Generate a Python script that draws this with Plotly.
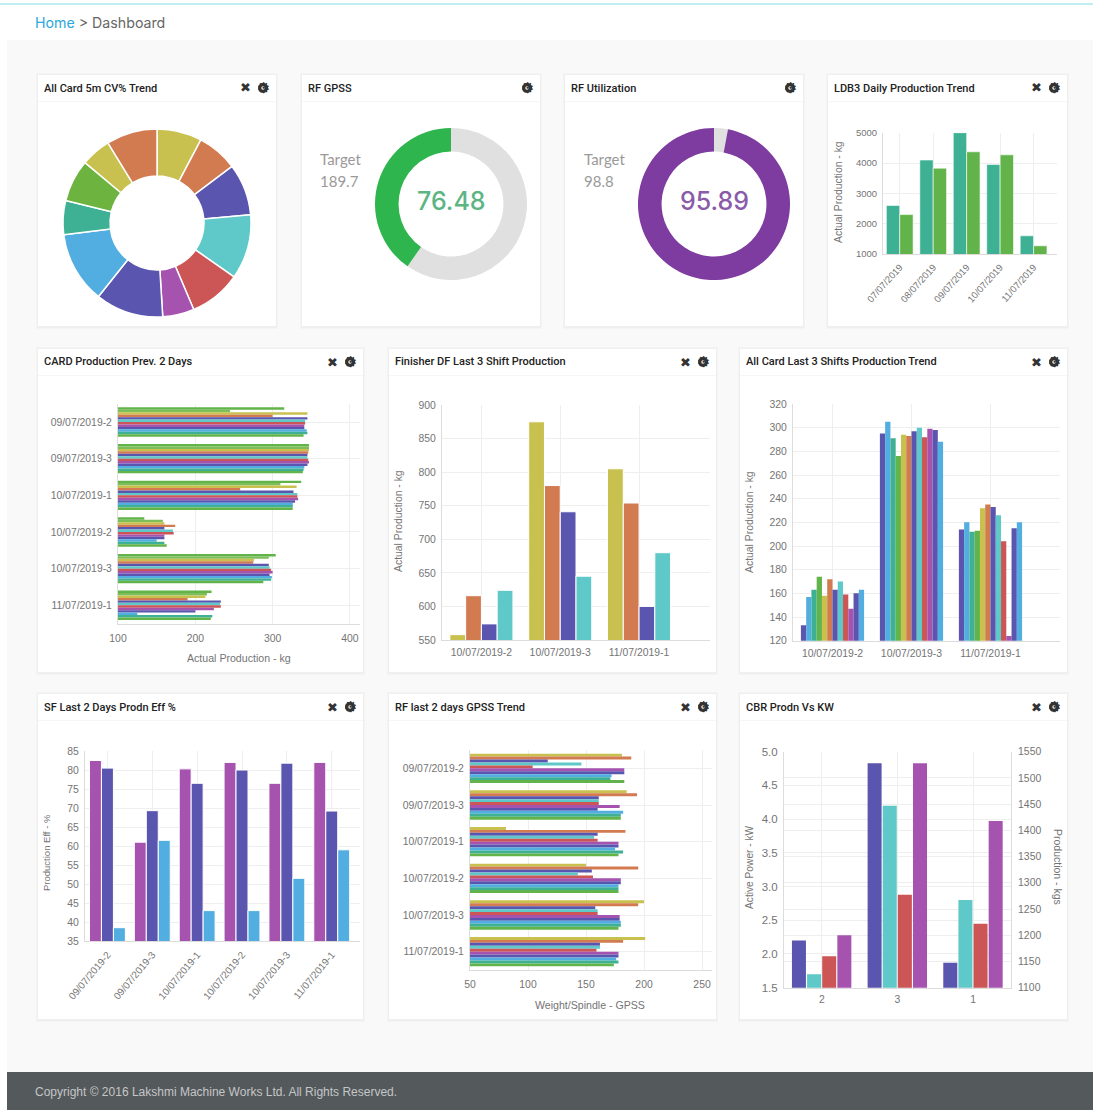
import plotly.graph_objects as go

W, H = 1093, 1110

# ---------- data ----------
cv_values = [27.8, 25.2, 32, 40, 32, 19.5, 42, 44.3, 21, 26.2, 18.5, 31.5]
gpss_actual, gpss_target = 76.48, 189.7
util_actual, util_target = 95.89, 98.8

ldb3_dates = ["07/07/2019", "08/07/2019", "09/07/2019", "10/07/2019", "11/07/2019"]
ldb3_a = [2600, 4100, 5000, 3950, 1600]
ldb3_b = [2300, 3830, 4370, 4270, 1270]

shift_six = ["09/07/2019-2", "09/07/2019-3", "10/07/2019-1", "10/07/2019-2", "10/07/2019-3", "11/07/2019-1"]
shift_three = ["10/07/2019-2", "10/07/2019-3", "11/07/2019-1"]

card_prod = [
    [315, 347, 337, 134, 304, 221],
    [245, 347, 310, 158, 295, 215],
    [345, 347, 331, 160, 276, 213],
    [300, 346, 258, 174, 275, 190],
    [345, 345, 327, 160, 295, 233],
    [342, 345, 332, 171, 296, 232],
    [342, 346, 332, 172, 298, 233],
    [341, 347, 333, 160, 300, 224],
    [341, 345, 329, 160, 296, 200],
    [344, 341, 326, 150, 299, 125],
    [345, 340, 326, 160, 298, 222],
    [340, 339, 326, 163, 288, 220],
]

fin_a = [558, 875, 805]
fin_b = [616, 780, 754]
fin_c = [574, 741, 600]
fin_d = [624, 645, 680]

allcard = [
    [133, 295, 214], [157, 305, 220], [163, 291, 212], [174, 276, 213],
    [158, 294, 232], [172, 293, 235], [163, 297, 233], [170, 300, 226],
    [159, 292, 204], [147, 299, 124], [160, 298, 215], [163, 288, 220],
]

sf_a = [82.5, 61, 80.3, 82, 76.5, 82]
sf_b = [80.5, 69.3, 76.5, 80, 81.8, 69.2]
sf_c = [38.5, 61.5, 43, 43, 51.5, 59]

rf_gpss = [
    [181, 185, 81, 150, 200, 201],
    [189, 194, 184, 195, 195, 182],
    [117, 161, 160, 155, 158, 162],
    [146, 161, 157, 143, 160, 162],
    [104, 161, 160, 156, 160, 159],
    [183, 179, 178, 180, 179, 178],
    [183, 160, 178, 180, 179, 178],
    [172, 182, 175, 178, 180, 176],
    [171, 180, 182, 178, 180, 178],
    [183, 180, 178, 178, 178, 174],
]

cbr_cats = ["2", "3", "1"]
cbr_kw_a = [2.2, 4.83, 1.87]
cbr_kw_b = [1.7, 4.2, 2.8]
cbr_kg_a = [1160, 1277, 1222]
cbr_kg_b = [1200, 1528, 1418]

# ---------- palette ----------
INDIGO, SKY, TGREEN, GREEN, OLIVE, ORANGE = "#5a55ae", "#52ade0", "#3eb094", "#62b34a", "#c9c14f", "#d27a50"
TEAL, RED, PURPLE = "#5fc8c8", "#cc5555", "#a653b0"
CYCLE12 = [INDIGO, SKY, TGREEN, GREEN, OLIVE, ORANGE, INDIGO, TEAL, RED, PURPLE, INDIGO, SKY]
PIE12 = [OLIVE, ORANGE, INDIGO, TEAL, RED, PURPLE, INDIGO, SKY, TGREEN, "#6cb33f", OLIVE, ORANGE]
HBAR12 = [GREEN, "#7cbf5a", OLIVE, ORANGE, INDIGO, TEAL, RED, PURPLE, INDIGO, SKY, TGREEN, GREEN]
HBAR10 = [OLIVE, ORANGE, INDIGO, TEAL, RED, PURPLE, INDIGO, SKY, TGREEN, GREEN]
GRID, LINE, TICK = "#eeeeee", "#dcdcdc", "#747474"
FONT = "Liberation Sans"

fig = go.Figure()
layout = {}
shapes, annots = [], []


def px(x):
    return x / W


def py(y):
    return 1 - y / H


def tf(size):
    return dict(size=size, color=TICK, family=FONT)


def rect(x0, y0, x1, y1, fill):
    shapes.append(dict(type="rect", xref="paper", yref="paper", layer="below",
                       x0=px(x0), x1=px(x1), y0=py(y0), y1=py(y1), fillcolor=fill,
                       line=dict(color=fill, width=0)))


def disc(cx, cy, r, fill):
    shapes.append(dict(type="circle", xref="paper", yref="paper", layer="below",
                       x0=px(cx - r), x1=px(cx + r), y0=py(cy + r), y1=py(cy - r), fillcolor=fill,
                       line=dict(color=fill, width=0)))


def text(x, y, s, size=10, color="#666", anchor="center", angle=0, family="Roboto", weight="normal"):
    if anchor == "left":
        x -= 2
    annots.append(dict(x=px(x), y=py(y), xref="paper", yref="paper", text=s, showarrow=False,
                       xanchor=anchor, yanchor="middle", textangle=angle,
                       font=dict(size=size, color=color, family=family, weight=weight)))


def axes(n, x0, x1, y0, y1, xrange, yrange, xopts=None, yopts=None):
    base = dict(showgrid=True, gridcolor=GRID, gridwidth=1, showline=True, linecolor=LINE, zeroline=False,
                automargin=False, ticks="", tickfont=tf(10.4), ticklabelstandoff=3)
    xa = dict(base, domain=[px(x0), px(x1)], range=xrange, anchor=f"y{n}")
    ya = dict(base, domain=[py(y1), py(y0)], range=yrange, anchor=f"x{n}")
    xa.update(xopts or {})
    ya.update(yopts or {})
    layout[f"xaxis{n}"] = xa
    layout[f"yaxis{n}"] = ya
    return f"x{n}", f"y{n}"


def bar(xa, ya, x, y, color, orient="v", sep=0.0, **kw):
    fig.add_trace(go.Bar(x=x, y=y, orientation=orient, xaxis=xa, yaxis=ya,
                         marker=dict(color=color, line=dict(color="#ffffff", width=sep)),
                         showlegend=False, **kw))


# ---------- page chrome ----------
rect(0, 0, W, H, "#ffffff")
rect(7, 40, W, 1072, "#f9f9f9")
rect(0, 3.5, W, 4.5, "#7fdbe6")
rect(7, 1072, W, 1110, "#54595c")
text(35, 22, '<span style="color:#2aa8dc">Home</span> &gt; Dashboard', 14.2, "#666666", "left", family="Inter")
text(35, 1092, "Copyright © 2016 Lakshmi Machine Works Ltd. All Rights Reserved.", 12, "#c4c6c7", "left", family=FONT)

cards = [
    (38, 276, 75, 326, 14, "All Card 5m CV% Trend", True),
    (302, 540, 75, 326, 14, "RF GPSS", False),
    (565, 803, 75, 326, 14, "RF Utilization", False),
    (828, 1067, 75, 326, 14, "LDB3 Daily Production Trend", True),
    (38, 363, 349, 672, 12, "CARD Production Prev. 2 Days", True),
    (389, 716, 349, 672, 12, "Finisher DF Last 3 Shift Production", True),
    (740, 1067, 349, 672, 12, "All Card Last 3 Shifts Production Trend", True),
    (38, 363, 694, 1019, 13, "SF Last 2 Days Prodn Eff %", True),
    (389, 716, 694, 1019, 13, "RF last 2 days GPSS Trend", True),
    (740, 1067, 694, 1019, 13, "CBR Prodn Vs KW", True),
]
for x0, x1, y0, y1, dy, title, expand in cards:
    rect(x0 - 1.5, y0 - 1.5, x1 + 1.5, y1 + 2.5, "#efefef")
    rect(x0, y0, x1, y1, "#ffffff")
    rect(x0, y0 + 26, x1, y0 + 27, "#f6f6f6")
    text(x0 + 6, y0 + dy, title, 11, "#222222", "left", weight=500)
    disc(x1 - 13, y0 + 13, 5, "#333333")
    disc(x1 - 13, y0 + 13, 1.7, "#ffffff")
    text(x1 - 13, y0 + 13, "⚙", 15, "#333333", family="DejaVu Sans")
    if expand:
        text(x1 - 31, y0 + 13, "✖", 13, "#333333", family="DejaVu Sans")

# ---------- row 1 ----------
fig.add_trace(go.Pie(values=cv_values, sort=False, direction="clockwise", rotation=0, hole=0.5,
                     textinfo="none", showlegend=False,
                     marker=dict(colors=PIE12, line=dict(color="#ffffff", width=1.5)),
                     domain=dict(x=[px(63), px(251)], y=[py(317), py(129)])))

fig.add_trace(go.Pie(values=[gpss_target - gpss_actual, gpss_actual], sort=False, direction="clockwise",
                     rotation=0, hole=0.69, textinfo="none", showlegend=False,
                     marker=dict(colors=["#e0e0e0", "#2fb54e"], line=dict(width=0)),
                     domain=dict(x=[px(375), px(527)], y=[py(280), py(128)])))
text(451, 201, f"{gpss_actual:.2f}", 25, "#5cb583", family="Inter", weight=500)
text(320, 159, "Target", 15, "#9a9a9a", "left", family="Lato")
text(320, 181, f"{gpss_target}", 15, "#9a9a9a", "left", family="Lato")

fig.add_trace(go.Pie(values=[util_target - util_actual, util_actual], sort=False, direction="clockwise",
                     rotation=0, hole=0.69, textinfo="none", showlegend=False,
                     marker=dict(colors=["#e0e0e0", "#7e3ba0"], line=dict(width=0)),
                     domain=dict(x=[px(638), px(790)], y=[py(280), py(128)])))
text(714, 201, f"{util_actual:.2f}", 25, "#8a5ba8", family="Inter", weight=500)
text(584, 159, "Target", 15, "#9a9a9a", "left", family="Lato")
text(584, 181, f"{util_target}", 15, "#9a9a9a", "left", family="Lato")

xa, ya = axes(1, 883, 1057, 132.7, 254, [-0.5, 4.7], [1000, 5000],
              dict(type="category", tickangle=-48, tickfont=tf(9.5)),
              dict(tickvals=[1000, 2000, 3000, 4000, 5000], tickfont=tf(9.5)))
bar(xa, ya, ldb3_dates, ldb3_a, TGREEN, sep=0.6)
bar(xa, ya, ldb3_dates, ldb3_b, GREEN, sep=0.6)
text(838, 192, "Actual Production - kg", 10.4, TICK, angle=-90, family=FONT)

# ---------- row 2 ----------
xa, ya = axes(2, 118, 360, 403.7, 623.6, [100, 413], [5.5, -0.5],
              dict(tickvals=[100, 200, 300, 400], ticklabelstandoff=5), dict(type="category"))
for series, c in zip(card_prod, HBAR12):
    bar(xa, ya, series, shift_six, c, "h")
text(239, 658, "Actual Production - kg", 10.6, TICK, family=FONT)

xa, ya = axes(3, 442, 710, 405, 640, [-0.5, 2.9], [550, 900],
              dict(type="category"), dict(tickvals=list(range(550, 901, 50))))
for s, c in zip([fin_a, fin_b, fin_c, fin_d], [OLIVE, ORANGE, INDIGO, TEAL]):
    bar(xa, ya, shift_three, s, c, sep=1)
text(398, 521, "Actual Production - kg", 10.4, TICK, angle=-90, family=FONT)

xa, ya = axes(4, 793, 1060, 404, 640.7, [-0.5, 2.88], [120, 320],
              dict(type="category"), dict(tickvals=list(range(120, 321, 20))))
for s, c in zip(allcard, CYCLE12):
    bar(xa, ya, shift_three, s, c)
text(749, 522, "Actual Production - kg", 10.4, TICK, angle=-90, family=FONT)

# ---------- row 3 ----------
xa, ya = axes(5, 85, 360, 751, 941, [-0.5, 5.63], [35, 85],
              dict(type="category", tickangle=-50, tickfont=tf(10)), dict(tickvals=list(range(35, 86, 5))))
for s, c in zip([sf_a, sf_b, sf_c], [PURPLE, INDIGO, SKY]):
    bar(xa, ya, shift_six, s, c, sep=1)
text(46, 853, "Production Eff - %", 9.5, TICK, angle=-90, family=FONT)

xa, ya = axes(6, 470, 712, 750, 970, [50, 258.6], [5.5, -0.5],
              dict(tickvals=[50, 100, 150, 200, 250], ticklabelstandoff=5), dict(type="category"))
for series, c in zip(rf_gpss, HBAR10):
    bar(xa, ya, series, shift_six, c, "h")
text(590, 1005, "Weight/Spindle - GPSS", 10.6, TICK, family=FONT)

xa, ya = axes(7, 784, 1011, 751.7, 987.7, [-0.5, 2.5], [1.5, 5.0],
              dict(type="category", ticklabelstandoff=2),
              dict(tickvals=[1.5, 2.0, 2.5, 3.0, 3.5, 4.0, 4.5, 5.0], tickformat=".1f", tickfont=tf(11.5)))
layout["yaxis8"] = dict(domain=[py(987.7), py(751.7)], range=[1100, 1550], overlaying="y7", side="right",
                        anchor="x7", showgrid=True, gridcolor=GRID, showline=True, linecolor=LINE, zeroline=False,
                        automargin=False, tickvals=list(range(1100, 1551, 50)), tickfont=tf(10.4),
                        ticklabelstandoff=4)
bw = 0.185
for i, (s, c, axis) in enumerate([(cbr_kw_a, INDIGO, "y7"), (cbr_kw_b, TEAL, "y7"),
                                  (cbr_kg_a, RED, "y8"), (cbr_kg_b, PURPLE, "y8")]):
    bar("x7", axis, cbr_cats, s, c, width=bw, offset=-0.395 + i * 0.2)
text(749, 867, "Active Power - kW", 10.2, TICK, angle=-90, family=FONT)
text(1058, 867, "Production - kgs", 10.5, TICK, angle=90, family=FONT)

fig.update_layout(width=W, height=H, margin=dict(l=0, r=0, t=0, b=0, pad=0, autoexpand=False), autosize=False,
                  paper_bgcolor="#ffffff", plot_bgcolor="rgba(0,0,0,0)",
                  barmode="group", bargap=0.2, bargroupgap=0, shapes=shapes, annotations=annots, **layout)

fig.write_html("out.html", post_script="document.body.style.margin='0';document.body.style.overflow='hidden';",
               config=dict(displayModeBar=False))
